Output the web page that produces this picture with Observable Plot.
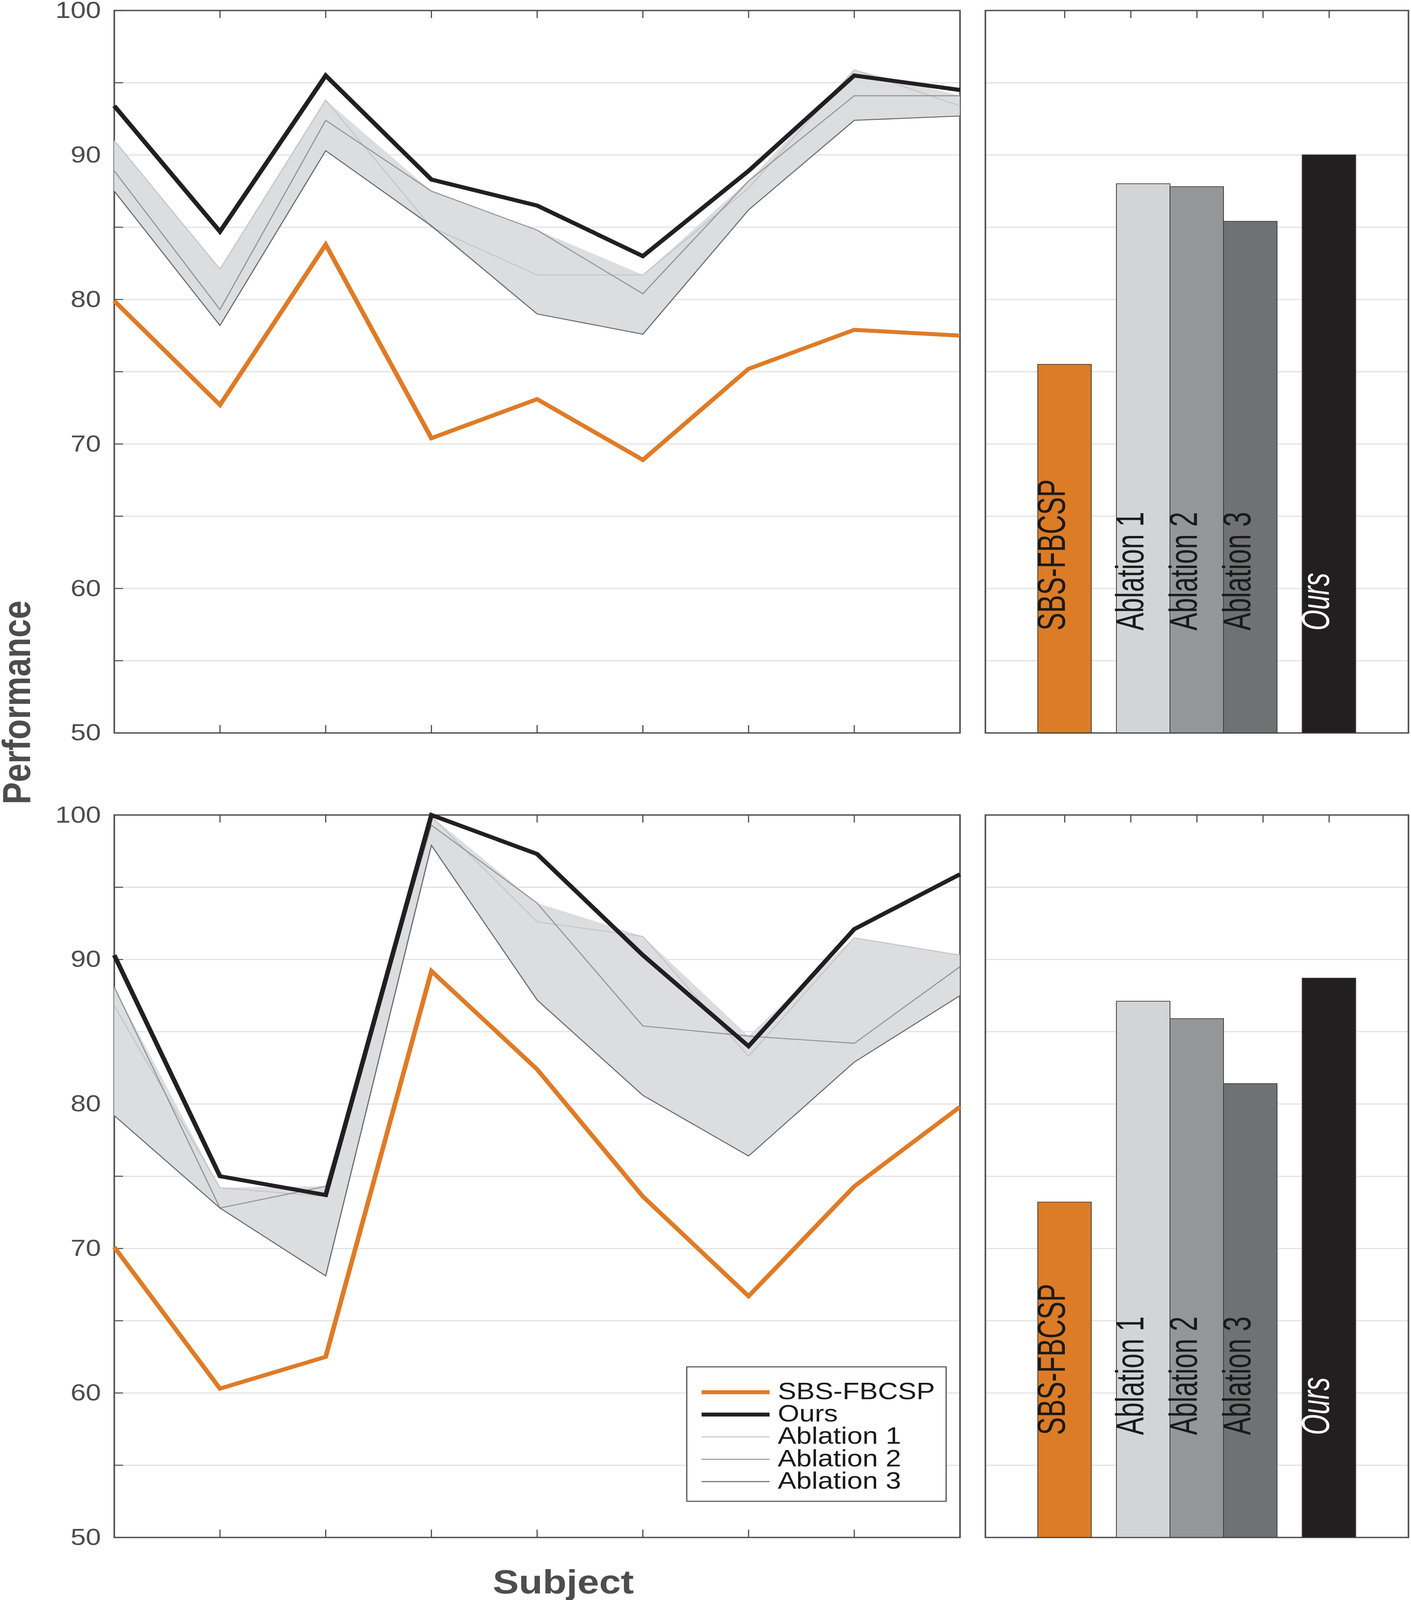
<!DOCTYPE html>
<html><head><meta charset="utf-8">
<script src="https://cdn.jsdelivr.net/npm/d3@7"></script>
<script src="https://cdn.jsdelivr.net/npm/@observablehq/plot@0.6"></script>
<style>
html,body{margin:0;padding:0;background:#fff;overflow:hidden;}
#wrap{position:relative;width:3612px;overflow:hidden;background:#fff;}
#fig{position:absolute;left:0;top:0;width:3612px;height:4797px;background:#fff;overflow:hidden;transform-origin:0 0;}
#fig > *{position:absolute;}
</style></head><body><div id="wrap"><div id="fig"></div></div>
<script>
// ---------- data ----------
const subjects = [1, 2, 3, 4, 5, 6, 7, 8, 9];
const seriesNames = ["SBS-FBCSP", "Ours", "Ablation 1", "Ablation 2", "Ablation 3"];

// top panel (per subject)
const topSBS  = [79.9, 72.7, 83.8, 70.4, 73.1, 68.9, 75.2, 77.9, 77.5];
const topOurs = [93.4, 84.7, 95.5, 88.3, 86.5, 83.0, 88.9, 95.5, 94.5];
const topAbl1 = [91.0, 82.1, 93.8, 85.0, 81.7, 81.7, 87.7, 95.9, 93.4];
const topAbl2 = [88.9, 79.3, 92.4, 87.5, 84.8, 80.4, 88.2, 94.1, 94.1];
const topAbl3 = [87.5, 78.2, 90.3, 85.1, 79.0, 77.6, 86.2, 92.4, 92.7];

// bottom panel (per subject)
const botSBS  = [70.1, 60.3, 62.5, 89.2, 82.4, 73.6, 66.7, 74.3, 79.8];
const botOurs = [90.3, 75.0, 73.7, 100.0, 97.3, 90.3, 84.0, 92.1, 95.9];
const botAbl1 = [86.8, 74.2, 73.6, 99.9, 92.6, 91.6, 83.3, 91.5, 90.3];
const botAbl2 = [88.1, 72.8, 74.3, 99.3, 93.9, 85.4, 84.7, 84.2, 89.5];
const botAbl3 = [79.2, 72.8, 68.1, 97.9, 87.2, 80.6, 76.4, 82.9, 87.5];

// bar panels (averages)
const barLabels = ["SBS-FBCSP", "Ablation 1", "Ablation 2", "Ablation 3", "Ours"];
const topBars = [75.5, 88.0, 87.8, 85.4, 90.0];
const botBars = [73.2, 87.1, 85.9, 81.4, 88.7];

const yDomain = [50, 100];
const yLabelTicks = [50, 60, 70, 80, 90, 100];
const yMinorTicks = [50, 55, 60, 65, 70, 75, 80, 85, 90, 95, 100];
const gridTicks = [55, 60, 65, 70, 75, 80, 85, 90, 95];

// ---------- styles ----------
const seriesColor = {"SBS-FBCSP": "#df7b26", "Ours": "#231f20", "Ablation 1": "#c4c5c7", "Ablation 2": "#939496", "Ablation 3": "#6b6c6e"};
const seriesWidth = {"SBS-FBCSP": 12, "Ours": 12, "Ablation 1": 3, "Ablation 2": 3, "Ablation 3": 3};
const barColor = {"SBS-FBCSP": "#dc7c27", "Ablation 1": "#d3d4d6", "Ablation 2": "#959698", "Ablation 3": "#707173", "Ours": "#231f20"};
const axisGray = "#4d4d4d";
const gridGray = "#dedede";
const bandFill = "#dcdddf";
const baseFont = "'Liberation Sans', Arial, Helvetica, sans-serif";

const FIG_W = 3612, FIG_H = 4797;
const fig = document.getElementById("fig");
const wrap = document.getElementById("wrap");
// the window may be shorter than the figure: fit the figure to the visible height
const sy = Math.min(1, (window.innerHeight || FIG_H) / FIG_H);
fig.style.transform = `scale(1, ${sy})`;
wrap.style.height = (FIG_H * sy) + "px";

// ---------- line panel ----------
function linePanel(series, top, marginTop, height, marginBottom) {
  const W = 2470, mL = 292, mR = W - 2457;
  const fw = W - mL - mR, fh = height - marginTop - marginBottom;
  const rows = [];
  seriesNames.forEach((s, k) => series[k].forEach((v, i) => rows.push({subject: subjects[i], series: s, value: v})));
  const band = subjects.map((x, i) => ({
    subject: x,
    lo: Math.min(series[2][i], series[3][i], series[4][i]),
    hi: Math.max(series[2][i], series[3][i], series[4][i])
  }));
  const drawOrder = ["Ablation 1", "Ablation 2", "Ablation 3", "SBS-FBCSP", "Ours"];
  const chart = Plot.plot({
    width: W, height, marginLeft: mL, marginRight: mR, marginTop, marginBottom,
    x: {domain: [1, 9], axis: null},
    y: {domain: yDomain, label: null},
    style: {fontFamily: baseFont, color: axisGray, background: "transparent", overflow: "visible"},
    marks: [
      Plot.gridY(gridTicks, {stroke: gridGray, strokeOpacity: 1, strokeWidth: 3}),
      Plot.ruleY(yMinorTicks, {stroke: axisGray, strokeWidth: 3, insetRight: fw - 23}),
      Plot.ruleX(subjects, {stroke: axisGray, strokeWidth: 3, insetBottom: fh - 23}),
      Plot.ruleX(subjects, {stroke: axisGray, strokeWidth: 3, insetTop: fh - 23}),
      Plot.frame({stroke: axisGray, strokeWidth: 4}),
      Plot.areaY(band, {x: "subject", y1: "lo", y2: "hi", fill: bandFill}),
      ...drawOrder.map(s => Plot.lineY(rows.filter(d => d.series === s), {
        x: "subject", y: "value", stroke: seriesColor[s], strokeWidth: seriesWidth[s],
        strokeLinejoin: "miter", strokeLinecap: "butt", strokeMiterlimit: 10
      })),
      Plot.axisY(yLabelTicks, {anchor: "left", tickSize: 0, tickPadding: 34, fontSize: 70, fill: axisGray, label: null, fontFamily: baseFont})
    ]
  });
  chart.style.left = "0px";
  chart.style.top = top + "px";
  fig.appendChild(chart);
}

// ---------- bar panel ----------
function barPanel(values, top, marginTop, height, marginBottom) {
  const W = 1112, mL = 22, mR = 7;
  const fh = height - marginTop - marginBottom;
  const bw = 0.81;
  const groups = [["SBS-FBCSP"], ["Ablation 1", "Ablation 2", "Ablation 3"], ["Ours"]];
  const center = {};
  groups.forEach((g, gi) => g.forEach((name, j) => { center[name] = 1 + 2 * gi + (j - (g.length - 1) / 2) * bw; }));
  const rows = barLabels.map((l, i) => ({label: l, value: values[i], cx: center[l], fill: barColor[l]}));
  const chart = Plot.plot({
    width: W, height, marginLeft: mL, marginRight: mR, marginTop, marginBottom,
    x: {domain: [-0.2, 6.2], axis: null},
    y: {domain: yDomain, axis: null, label: null},
    color: {type: "identity"},
    style: {fontFamily: baseFont, color: axisGray, background: "transparent", overflow: "visible"},
    marks: [
      Plot.gridY(gridTicks, {stroke: gridGray, strokeOpacity: 1, strokeWidth: 3}),
      Plot.ruleX([1, 2, 3, 4, 5], {stroke: axisGray, strokeWidth: 3, insetBottom: fh - 23}),
      Plot.frame({stroke: axisGray, strokeWidth: 4}),
      Plot.rect(rows, {
        x1: d => d.cx - bw / 2, x2: d => d.cx + bw / 2,
        y1: () => yDomain[0], y2: "value",
        fill: "fill", stroke: "#3a3a3a", strokeWidth: 2
      }),
      Plot.text(rows.filter(d => d.label !== "Ours"), {
        x: "cx", text: "label", rotate: -90, textAnchor: "start", frameAnchor: "bottom", dy: -307,
        fontSize: 100, fontFamily: baseFont, fill: "#1a1a1a", className: "barlabel"
      }),
      Plot.text(rows.filter(d => d.label === "Ours"), {
        x: "cx", text: "label", rotate: -90, textAnchor: "start", frameAnchor: "bottom", dy: -307,
        fontSize: 100, fontFamily: baseFont, fill: "#ffffff", fontStyle: "italic", className: "barlabel"
      })
    ]
  });
  chart.style.left = "2500px";
  chart.style.top = top + "px";
  fig.appendChild(chart);
  // condense the bar labels (narrow face as in the reference)
  chart.querySelectorAll(".barlabel text").forEach(t => {
    const L = t.getComputedTextLength();
    t.setAttribute("textLength", (L * 0.8).toFixed(1));
    t.setAttribute("lengthAdjust", "spacingAndGlyphs");
  });
}

linePanel([topSBS, topOurs, topAbl1, topAbl2, topAbl3], 0, 31, 2207, 10);
barPanel(topBars, 0, 31, 2207, 10);
linePanel([botSBS, botOurs, botAbl1, botAbl2, botAbl3], 2400, 43, 2221, 12);
barPanel(botBars, 2400, 43, 2221, 12);

// ---------- overlay: axis titles + legend ----------
const ov = d3.select(fig).append("svg")
  .attr("width", FIG_W).attr("height", FIG_H)
  .style("left", "0px").style("top", "0px").style("pointer-events", "none");

ov.append("text").attr("transform", "translate(77,2106) rotate(-90)")
  .attr("text-anchor", "middle").attr("font-family", baseFont).attr("font-weight", "bold")
  .attr("font-size", 100).attr("fill", axisGray).text("Performance");

ov.append("text").attr("x", 1442).attr("y", 4777)
  .attr("text-anchor", "middle").attr("font-family", baseFont).attr("font-weight", "bold")
  .attr("font-size", 100).attr("fill", axisGray).text("Subject");

const lg = ov.append("g");
lg.append("rect").attr("x", 1758).attr("y", 4098).attr("width", 664).attr("height", 403)
  .attr("fill", "#fff").attr("stroke", axisGray).attr("stroke-width", 3);
seriesNames.forEach((s, k) => {
  const base = 4195 + 67 * k;
  lg.append("line").attr("x1", 1796).attr("x2", 1970).attr("y1", base - 21).attr("y2", base - 21)
    .attr("stroke", seriesColor[s]).attr("stroke-width", seriesWidth[s]);
  lg.append("text").attr("x", 1991).attr("y", base).attr("font-family", baseFont)
    .attr("font-size", 71).attr("fill", "#1a1a1a").text(s);
});
</script>
</body></html>
